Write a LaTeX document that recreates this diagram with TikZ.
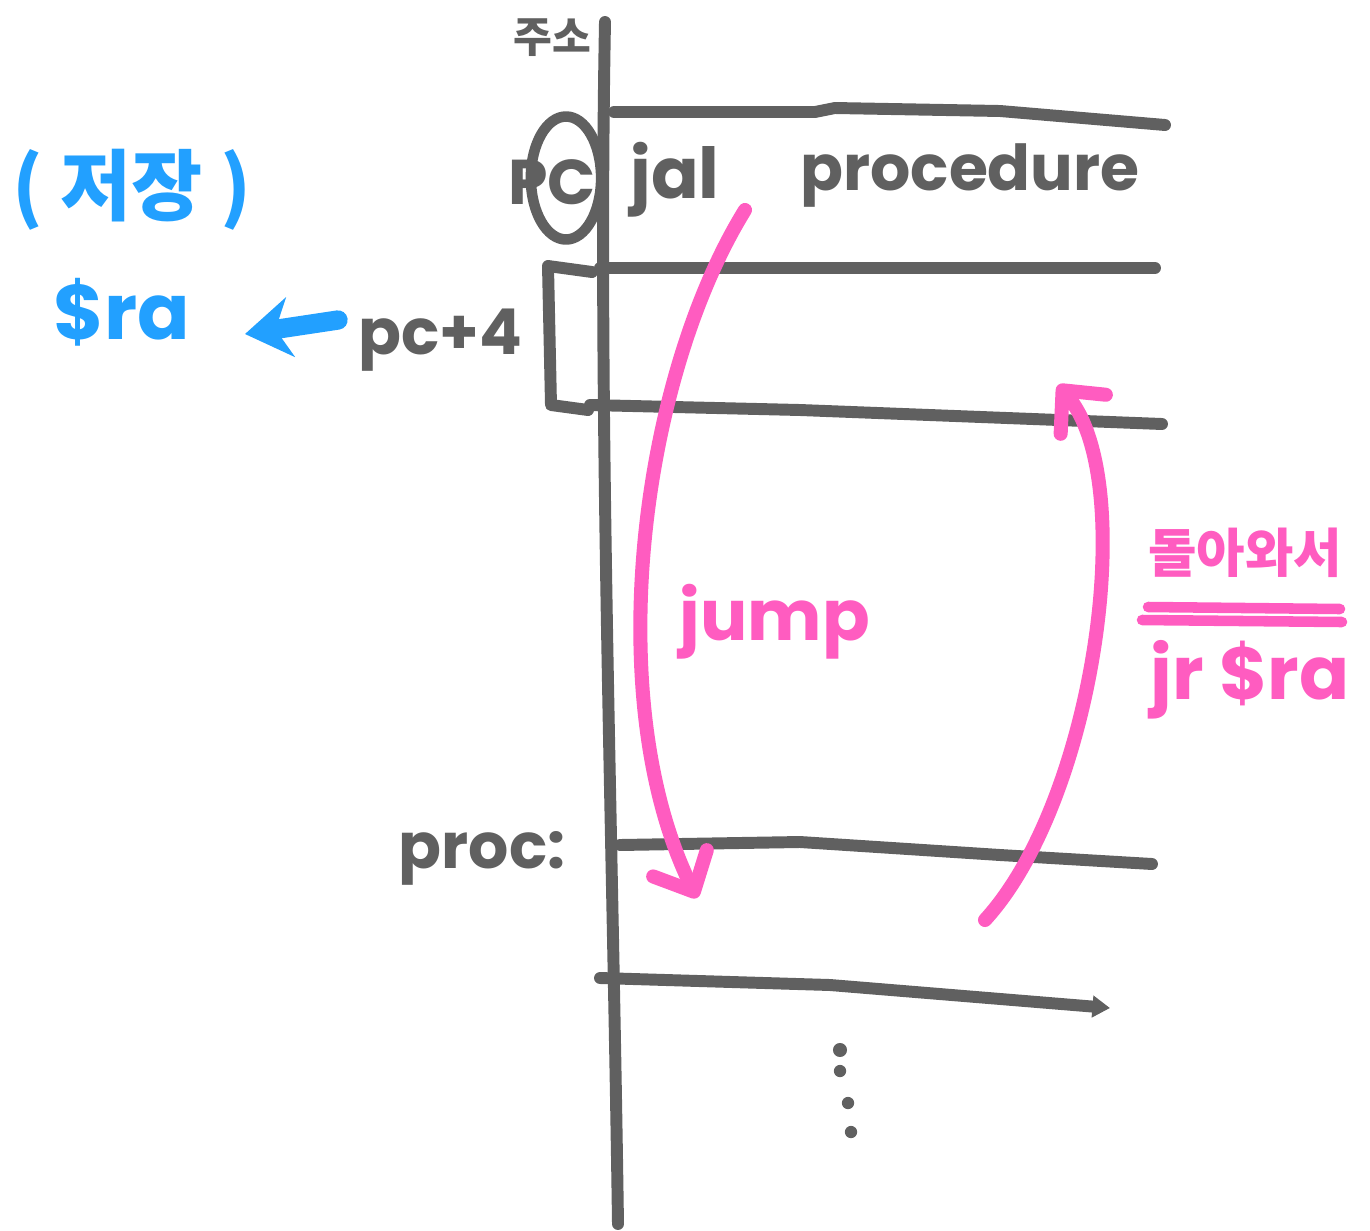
\documentclass[tikz,border=0pt]{standalone}
\usepackage{fontspec}
\setmainfont{Poppins}
\newfontfamily\kr{Noto Sans CJK KR}
\usetikzlibrary{arrows.meta}
\definecolor{pen}{HTML}{606060}
\definecolor{pblue}{HTML}{22A0FF}
\definecolor{ppink}{HTML}{FF5CC0}
\tikzset{
  grayline/.style={draw=pen, line width=6.8pt, line cap=round, line join=round},
  pinkline/.style={draw=ppink, line width=8pt, line cap=round, line join=round},
  bluearrow/.style={draw=pblue, line width=11pt, line cap=round, -{Stealth[length=26pt,width=34pt]}},
  barb/.style={-{Straight Barb[round,length=18pt,width=34pt,line width=8pt]}},
  graytext/.style={text=pen, inner sep=0pt, font=\bfseries\fontsize{36}{36}\selectfont},
  pinktext/.style={text=ppink, inner sep=0pt, font=\bfseries\fontsize{40}{40}\selectfont},
  bluetext/.style={text=pblue, inner sep=0pt, font=\bfseries\fontsize{44}{44}\selectfont},
}
\begin{document}
\begin{tikzpicture}[x=0.02cm,y=-0.02cm]
\useasboundingbox (0,0) rectangle (1370,1231);
% axis
\coordinate (axT) at (605,22);
\coordinate (axB) at (618,1224);
\draw[grayline] (axT) .. controls (598,400) and (612,800) .. (axB);
% rows
\coordinate (r1a) at (614,112); \coordinate (r1b) at (1165,125);
\draw[grayline] (r1a) -- (815,112) -- (835,108) -- (1000,111) -- (r1b);
\coordinate (r2a) at (600,268); \coordinate (r2b) at (1155,268);
\draw[grayline] (r2a) -- (r2b);
\coordinate (r3a) at (590,405); \coordinate (r3b) at (1162,424);
\draw[grayline] (r3a) -- (800,410) -- (r3b);
\coordinate (r4a) at (620,845); \coordinate (r4b) at (1152,864);
\draw[grayline] (r4a) -- (800,842) -- (1000,855) -- (r4b);
\coordinate (r5a) at (600,978); \coordinate (r5b) at (1110,1008);
\draw[grayline, -{Triangle[length=10pt,width=12pt]}] (r5a) -- (830,985) -- (r5b);
% bracket around pc+4 row
\coordinate (bk1) at (592,272); \coordinate (bk2) at (588,410);
\draw[grayline] (bk1) -- (548,266) -- (551,405) -- (bk2);
% labels
\node[text=pen, inner sep=0pt, font=\kr\bfseries\fontsize{24}{24}\selectfont] (addr) at (552,38) {주소};
\node[graytext] (pc) at (552,182) {PC};
\draw[grayline, line width=6pt] (566,178) ellipse (20pt and 35pt);
\node[graytext, font=\bfseries\fontsize{40}{40}\selectfont] (jal) at (675,180) {jal};
\node[graytext, font=\bfseries\fontsize{36}{36}\selectfont] (procedure) at (970,176) {procedure};
\node[graytext] (pc4) at (440,340) {pc+4};
\node[graytext] (proclbl) at (482,858) {proc:};
% blue
\node[bluetext, font=\kr\bfseries\fontsize{44}{44}\selectfont] (save) at (132,190) {( 저장 )};
\node[bluetext] (ra) at (122,312) {\$ra};
\coordinate (bS) at (338,320);
\coordinate (bE) at (245,334);
\draw[bluearrow] (bS) -- (bE);
% pink arrows
\coordinate (jS) at (745,210);
\coordinate (jE) at (697,898);
\draw[pinkline, barb] (jS) .. controls (640,380) and (600,700) .. (jE);
\coordinate (rS) at (985,920);
\coordinate (rE) at (1058,385);
\draw[pinkline, barb] (rS) .. controls (1095,800) and (1140,480) .. (rE);
\node[pinktext] (jump) at (775,622) {jump};
\node[pinktext, font=\kr\bfseries\fontsize{30}{30}\selectfont] (back) at (1245,553) {돌아와서};
\coordinate (u1a) at (1148,607); \coordinate (u1b) at (1340,609);
\coordinate (u2a) at (1142,620); \coordinate (u2b) at (1342,622);
\draw[pinkline, line width=6pt] (u1a) -- (u1b);
\draw[pinkline, line width=6pt] (u2a) -- (u2b);
\node[pinktext, font=\bfseries\fontsize{42}{42}\selectfont] (jr) at (1250,680) {jr \$ra};
% dots
\fill[pen] (840,1050) circle (4pt);
\fill[pen] (840,1071) circle (3.5pt);
\fill[pen] (848,1103) circle (3.5pt);
\fill[pen] (851,1132) circle (3.5pt);
\end{tikzpicture}
\end{document}
